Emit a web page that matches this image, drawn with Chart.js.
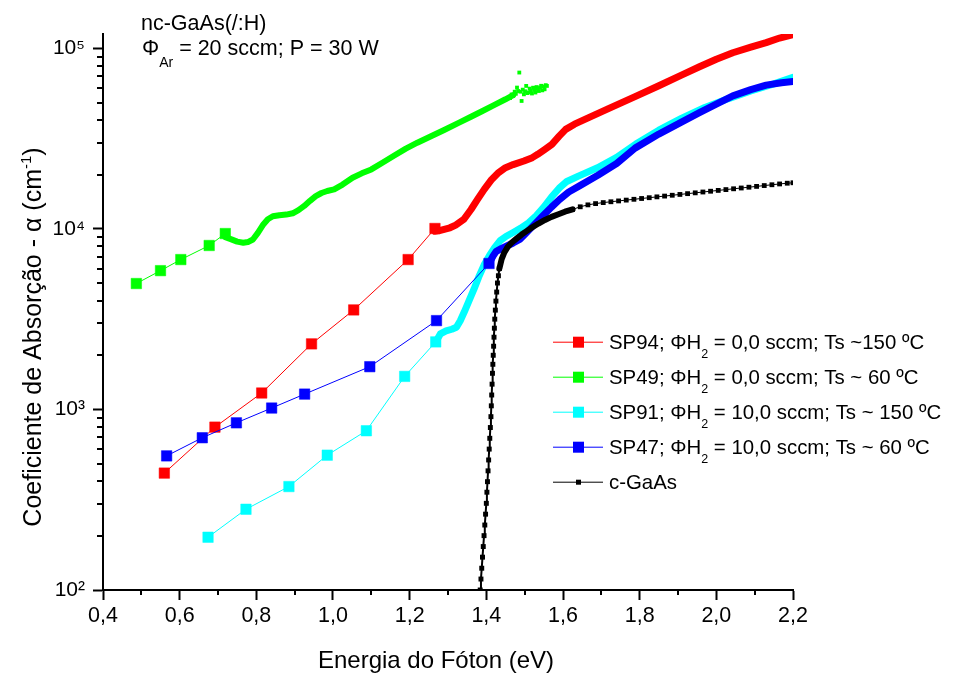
<!DOCTYPE html>
<html><head><meta charset="utf-8">
<script src="https://cdn.jsdelivr.net/npm/chart.js@4.4.0/dist/chart.umd.min.js"></script>
<style>html,body{margin:0;padding:0;background:#fff;}canvas{display:block;}</style>
</head><body>
<canvas id="c" width="971" height="675"></canvas>
<script>
// ---------------- DATA ----------------
// Axis ticks
const xTickValues = [0.4,0.6,0.8,1.0,1.2,1.4,1.6,1.8,2.0,2.2];
const yDecades = [100,1000,10000,100000];

// SP94 (red)
const sp94SqE = [0.560,0.692,0.814,0.944,1.054,1.196,1.266];
const sp94SqA = [444,798,1233,2307,3557,6760,10050];
const sp94CurveE = [1.266,1.275,1.290,1.305,1.320,1.341,1.360,1.377,1.395,1.414,1.432,1.450,1.470,1.498,1.520,1.534,1.552,1.571,1.590,1.607,1.630,1.667,1.720,1.788,1.850,1.909,1.956,2.000,2.043,2.090,2.130,2.165,2.200];
const sp94CurveA = [9700,9750,9950,10140,10500,11270,12800,14550,16600,18790,20500,21830,22700,23760,24800,25880,27500,29400,32600,35560,38000,41300,46500,54000,62000,71000,79000,87000,94500,101500,107500,114000,119000];

// SP49 (green)
const sp49SqE = [0.487,0.550,0.603,0.677,0.719];
const sp49SqA = [4980,5870,6760,8090,9420];
const sp49CurveE = [0.719,0.735,0.750,0.766,0.778,0.791,0.804,0.817,0.830,0.843,0.860,0.878,0.895,0.910,0.925,0.940,0.955,0.970,0.985,1.003,1.025,1.051,1.075,1.100,1.130,1.160,1.190,1.220,1.257,1.290,1.329,1.360,1.390,1.420,1.450,1.470];
const sp49CurveA = [9000,8750,8500,8380,8450,8730,9500,10500,11300,11740,11900,12000,12200,12700,13400,14300,15180,15800,16200,16550,17600,19200,20300,21340,23300,25500,27800,30000,32650,35300,38750,41800,44950,48500,52200,55000];
const sp49TailE = [1.462,1.466,1.470,1.474,1.477,1.480,1.483,1.486,1.489,1.492,1.495,1.498,1.501,1.504,1.507,1.510,1.513,1.516,1.519,1.522,1.525,1.528,1.531,1.534,1.537,1.540,1.543,1.546,1.549,1.552,1.555,1.558];
const sp49TailA = [53000,55500,54500,57500,56000,60600,58000,73400,57500,51100,59000,55600,57800,61900,56500,57000,59800,58100,56200,60500,58800,56900,61000,59500,58000,60600,62000,58500,61500,59300,62500,61900];

// SP91 (cyan)
const sp91SqE = [0.674,0.773,0.885,0.985,1.087,1.187,1.268];
const sp91SqA = [196,280,374,558,762,1524,2366];
const sp91CurveE = [1.268,1.280,1.295,1.310,1.322,1.332,1.342,1.355,1.368,1.380,1.394,1.408,1.422,1.436,1.452,1.470,1.490,1.510,1.530,1.550,1.570,1.590,1.610,1.640,1.690,1.740,1.790,1.850,1.910,1.970,2.030,2.090,2.150,2.200];
const sp91CurveA = [2366,2620,2720,2780,2850,3100,3450,4000,4650,5400,6300,7100,7900,8600,9100,9550,10100,10800,11800,13200,15000,16800,18300,19600,21800,24900,29500,35200,41000,47000,52500,58000,63500,69000];

// SP47 (blue)
const sp47SqE = [0.566,0.659,0.748,0.840,0.926,1.096,1.270,1.407];
const sp47SqA = [553,697,843,1018,1216,1725,3104,6430];
const sp47CurveE = [1.407,1.418,1.426,1.440,1.452,1.470,1.487,1.500,1.513,1.530,1.547,1.570,1.591,1.615,1.643,1.691,1.740,1.788,1.850,1.909,1.956,2.000,2.043,2.090,2.130,2.170,2.200];
const sp47CurveA = [6430,7100,7510,7800,8010,8350,8730,9300,9930,10800,11780,13200,14550,16000,17300,19800,23000,28000,33500,39000,44000,49000,54500,59000,62500,64500,65500];

// c-GaAs (black)
const gaasSteepE = [1.384,1.386,1.388,1.390,1.392,1.394,1.396,1.398,1.400,1.4015,1.403,1.4045,1.406,1.4075,1.409,1.4105,1.412,1.413,1.414,1.415,1.416,1.417,1.418,1.419,1.420,1.421,1.422,1.4235,1.425,1.427,1.429,1.4315,1.434];
const gaasSteepA = [100,115,132,152,174,200,229,263,302,348,398,457,525,603,692,794,912,1047,1202,1380,1585,1778,1995,2239,2512,2818,3162,3548,3981,4467,5012,5500,6026];
const gaasBandE = [1.434,1.440,1.447,1.455,1.465,1.478,1.492,1.506,1.520,1.536,1.553,1.570,1.588,1.605,1.625];
const gaasBandA = [6026,6800,7400,7900,8350,8800,9300,9750,10200,10700,11200,11650,12050,12450,12820];
const gaasDotE = [1.625,1.645,1.665,1.685,1.705,1.725,1.745,1.765,1.785,1.805,1.825,1.845,1.865,1.885,1.905,1.925,1.945,1.965,1.985,2.005,2.025,2.045,2.065,2.085,2.105,2.125,2.145,2.165,2.185,2.200];
const gaasDotA = [12820,13250,13580,13800,13980,14130,14280,14430,14580,14730,14880,15040,15190,15350,15510,15670,15830,16000,16160,16330,16500,16670,16840,17010,17190,17370,17550,17730,17900,18000];

// Legend entries
const legendLabels = [
  ['SP94; ΦH','2',' = 0,0 sccm; Ts ~150 ºC'],
  ['SP49; ΦH','2',' = 0,0 sccm; Ts ~ 60 ºC'],
  ['SP91; ΦH','2',' = 10,0 sccm; Ts ~ 150 ºC'],
  ['SP47; ΦH','2',' = 10,0 sccm; Ts ~ 60 ºC'],
  ['c-GaAs','','']
];
const legendColors = ['#ff0000','#00ff00','#00ffff','#0000ff','#000000'];

// ---------------- CHART ----------------
const FONT = "'Liberation Sans', Arial, Helvetica, sans-serif";
const pts = (E,A) => E.map((e,i)=>({x:e,y:A[i]}));
const RED='#ff0000', GREEN='#00ff00', CYAN='#00ffff', BLUE='#0000ff', BLACK='#000000';

function sq(data,color,order){return {data,showLine:true,borderColor:color,borderWidth:1,pointStyle:'rect',pointRadius:7.4,pointBackgroundColor:color,pointBorderColor:color,pointBorderWidth:0.5,order};}
function band(data,color,w,order){return {data,showLine:true,borderColor:color,borderWidth:w,pointRadius:0,borderJoinStyle:'round',borderCapStyle:'round',order};}

const datasets = [
  {data:pts(gaasSteepE,gaasSteepA),showLine:true,borderColor:BLACK,borderWidth:2,pointStyle:'rect',pointRadius:3.5,pointBackgroundColor:BLACK,pointBorderWidth:0,order:1},
  {data:pts(gaasDotE,gaasDotA),showLine:true,borderColor:BLACK,borderWidth:1,pointStyle:'rect',pointRadius:3.4,pointBackgroundColor:BLACK,pointBorderWidth:0,order:1},
  band(pts(gaasBandE,gaasBandA),BLACK,6,1),
  sq(pts(sp47SqE,sp47SqA),BLUE,2),
  band(pts(sp47CurveE,sp47CurveA),BLUE,7,2),
  sq(pts(sp91SqE,sp91SqA),CYAN,3),
  band(pts(sp91CurveE,sp91CurveA),CYAN,7,3),
  sq(pts(sp49SqE,sp49SqA),GREEN,4),
  band(pts(sp49CurveE,sp49CurveA),GREEN,6,4),
  {data:pts(sp49TailE,sp49TailA),showLine:false,pointStyle:'rect',pointRadius:2.7,pointBackgroundColor:GREEN,pointBorderWidth:0,order:4},
  sq(pts(sp94SqE,sp94SqA),RED,5),
  band(pts(sp94CurveE,sp94CurveA),RED,7,5)
];

function isPow10(v){const l=Math.log10(v);return Math.abs(l-Math.round(l))<1e-6;}
const SUP={2:'²',3:'³',4:'⁴',5:'⁵'};

function drawRich(ctx,parts,x,y){
  let cx=x;
  parts.forEach(p=>{
    if(!p.t) return;
    ctx.font=p.size+'px '+FONT;
    ctx.fillText(p.t,cx,y+(p.dy||0));
    cx+=ctx.measureText(p.t).width;
  });
  return cx-x;
}
function richWidth(ctx,parts){
  let w=0; parts.forEach(p=>{if(!p.t)return; ctx.font=p.size+'px '+FONT; w+=ctx.measureText(p.t).width;}); return w;
}

const overlay = {
  id:'overlay',
  afterDraw(chart){
    const ctx=chart.ctx, xs=chart.scales.x, ys=chart.scales.y;
    ctx.save();
    // minor ticks
    ctx.strokeStyle='#000'; ctx.lineWidth=2;
    ys.ticks.forEach(t=>{
      const v=t.value, e=Math.floor(Math.log10(v)+1e-9), m=v/Math.pow(10,e);
      if(Math.abs(m-Math.round(m))<1e-6 && Math.round(m)>1){
        const p=Math.round(ys.getPixelForValue(v));
        ctx.beginPath(); ctx.moveTo(ys.right-6,p); ctx.lineTo(ys.right,p); ctx.stroke();
      }
    });
    xs.ticks.forEach(t=>{
      if(Math.round(t.value*10)%2===1){
        const p=Math.round(xs.getPixelForValue(t.value));
        ctx.beginPath(); ctx.moveTo(p,xs.top); ctx.lineTo(p,xs.top+5); ctx.stroke();
      }
    });
    ctx.fillStyle='#000'; ctx.textAlign='left'; ctx.textBaseline='alphabetic';
    // axis titles
    ctx.font='24px '+FONT;
    ctx.textAlign='center';
    ctx.fillText('Energia do Fóton (eV)',436,668);
    ctx.textAlign='left';
    const yParts=[{t:'Coeficiente de Absorção - α (cm',size:25},{t:'-1',size:15,dy:-10},{t:')',size:25}];
    const yw=richWidth(ctx,yParts);
    ctx.save(); ctx.translate(41,337+yw/2); ctx.rotate(-Math.PI/2);
    drawRich(ctx,yParts,0,0); ctx.restore();
    // annotation
    drawRich(ctx,[{t:'nc-GaAs(/:H)',size:21.5}],141,30);
    drawRich(ctx,[{t:'Φ',size:21.5},{t:'Ar',size:14,dy:12},{t:' = 20 sccm; P = 30 W',size:21.5}],142,55);
    // legend
    const rows=[341.7,376.7,411.7,446.7,481.7];
    legendLabels.forEach((lab,i)=>{
      const y=rows[i], c=legendColors[i];
      ctx.strokeStyle=c; ctx.lineWidth=1;
      ctx.beginPath(); ctx.moveTo(553,y+0.5); ctx.lineTo(603,y+0.5); ctx.stroke();
      ctx.fillStyle=c;
      if(i<4) ctx.fillRect(573,y-5,11,11); else ctx.fillRect(576,y-2,5,5);
      ctx.fillStyle='#000';
      drawRich(ctx,[{t:lab[0],size:20.4},{t:lab[1],size:12.5,dy:9},{t:lab[2],size:20.4}],609,y+6.8);
    });
    ctx.restore();
  }
};

new Chart(document.getElementById('c'),{
  type:'scatter',
  data:{datasets},
  options:{
    responsive:false, animation:false, devicePixelRatio:1,
    layout:{padding:{left:0,top:34,right:178,bottom:0}},
    plugins:{legend:{display:false},tooltip:{enabled:false}},
    elements:{line:{tension:0}},
    scales:{
      x:{type:'linear',min:0.4,max:2.2,
        afterFit:s=>{s.height=85;},
        border:{display:true,color:'#000',width:2},
        grid:{drawOnChartArea:false,drawTicks:true,tickLength:10,tickWidth:2,
          tickColor:c=>(Math.round(c.tick.value*10)%2===0)?'#000':'rgba(0,0,0,0)'},
        ticks:{stepSize:0.1,autoSkip:false,maxRotation:0,padding:3,color:'#000',font:{family:FONT,size:21.5},
          callback:v=>{const k=Math.round(v*10);return (k%2===0 && xTickValues.some(t=>Math.abs(t-v)<1e-6))?(k/10).toFixed(1).replace('.',','):'';}}
      },
      y:{type:'logarithmic',min:100,max:120000,
        afterFit:s=>{s.width=103;},
        border:{display:true,color:'#000',width:2},
        grid:{drawOnChartArea:false,drawTicks:true,tickLength:10,tickWidth:2,
          tickColor:c=>isPow10(c.tick.value)?'#000':'rgba(0,0,0,0)'},
        ticks:{autoSkip:false,padding:8,color:'#000',font:{family:FONT,size:21},
          callback:v=>{if(!yDecades.includes(Math.round(v)))return '';return '10'+SUP[Math.round(Math.log10(v))];}}
      }
    }
  },
  plugins:[overlay]
});
</script>
</body></html>
